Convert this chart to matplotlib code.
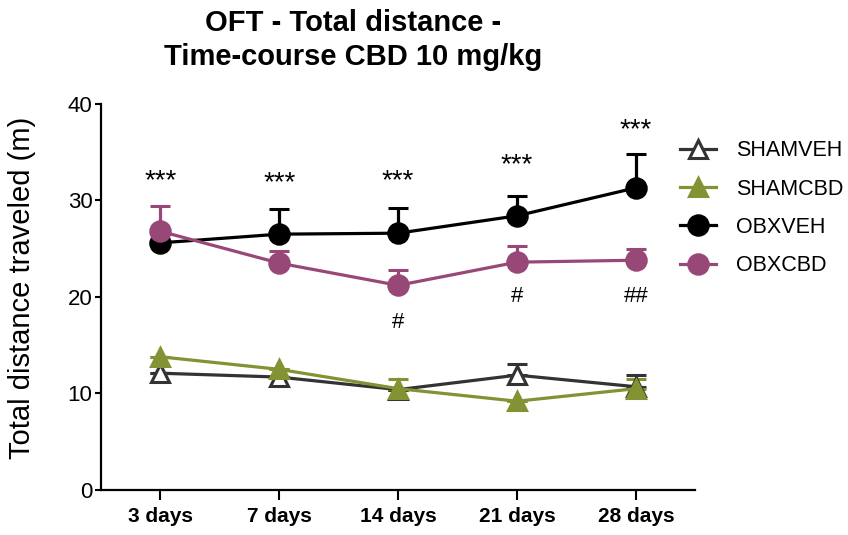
import numpy as np
import matplotlib
matplotlib.use("Agg")
import matplotlib.pyplot as plt
from matplotlib.lines import Line2D

plt.rcParams['font.family'] = ['Liberation Sans', 'DejaVu Sans']

days = ["3 days", "7 days", "14 days", "21 days", "28 days"]

shamveh = [12.1, 11.7, 10.4, 11.9, 10.7]
shamveh_err = [0.0, 0.0, 0.0, 1.2, 1.2]
shamcbd = [13.8, 12.5, 10.5, 9.2, 10.5]
shamcbd_err = [0.0, 0.0, 1.0, 0.0, 1.0]
obxveh = [25.6, 26.5, 26.6, 28.4, 31.3]
obxveh_err = [0.0, 2.6, 2.6, 2.1, 3.5]
obxcbd = [26.8, 23.5, 21.2, 23.6, 23.8]
obxcbd_err = [2.6, 1.3, 1.6, 1.7, 1.2]

stars_y = [32.0, 31.8, 32.0, 33.6, 37.3]
hash_labels = ["", "", "#", "#", "##"]
hash_y = [0, 0, 17.3, 20.0, 20.0]

c_shamveh = "#333333"
c_shamcbd = "#839232"
c_obxveh = "#000000"
c_obxcbd = "#984877"

fig = plt.figure(figsize=(8.48, 5.35), dpi=100)
ax = fig.add_axes([0.119, 0.084, 0.701, 0.722])
x = np.arange(len(days))

LW = 2.3
styles = []

def series(vals, err, color, marker, label, mfc, ms):
    ax.errorbar(x, vals, yerr=[np.zeros(len(err)), err], color=color, lw=LW,
                marker=marker, ms=ms, mfc=mfc, mec=color, mew=2.2,
                capsize=7, capthick=LW + 0.3, elinewidth=LW, zorder=3)
    styles.append(Line2D([], [], color=color, lw=LW, marker=marker, ms=ms,
                         mfc=mfc, mec=color, mew=2.2, label=label))

series(shamveh, shamveh_err, c_shamveh, "^", "SHAMVEH", "white", 13)
series(shamcbd, shamcbd_err, c_shamcbd, "^", "SHAMCBD", c_shamcbd, 13)
series(obxveh, obxveh_err, c_obxveh, "o", "OBXVEH", c_obxveh, 14)
series(obxcbd, obxcbd_err, c_obxcbd, "o", "OBXCBD", c_obxcbd, 14)

for xi, sy in zip(x, stars_y):
    ax.text(xi, sy, "***", ha="center", va="center", fontsize=20)
for xi, lab, hy in zip(x, hash_labels, hash_y):
    if lab:
        ax.text(xi, hy, lab, ha="center", va="center", fontsize=16)

ax.set_xlim(-0.5, 4.5)
ax.set_ylim(0, 40)
ax.set_yticks([0, 10, 20, 30, 40])
ax.set_xticks(x)
ax.set_xticklabels(days, fontweight="bold", fontsize=15)
ax.tick_params(axis="y", labelsize=16, width=1.5, length=4, pad=2)
ax.tick_params(axis="x", width=1.5, length=7, pad=5)
for s in ["top", "right"]:
    ax.spines[s].set_visible(False)
for s in ["left", "bottom"]:
    ax.spines[s].set_linewidth(1.6)

ax.set_ylabel("Total distance traveled (m)", fontsize=21)
ax.yaxis.set_label_coords(-0.109, 0.523)
ax.set_title("OFT - Total distance -\nTime-course CBD 10 mg/kg", fontweight="bold",
             fontsize=21, x=0.425, pad=28, linespacing=1.25)

leg = ax.legend(handles=styles, loc="upper left", bbox_to_anchor=(0.975, 0.905),
                frameon=False, fontsize=15.5, borderpad=0, borderaxespad=0,
                labelspacing=0.8, handlelength=1.65, handletextpad=0.95)

fig.savefig("out.png", dpi=100)
